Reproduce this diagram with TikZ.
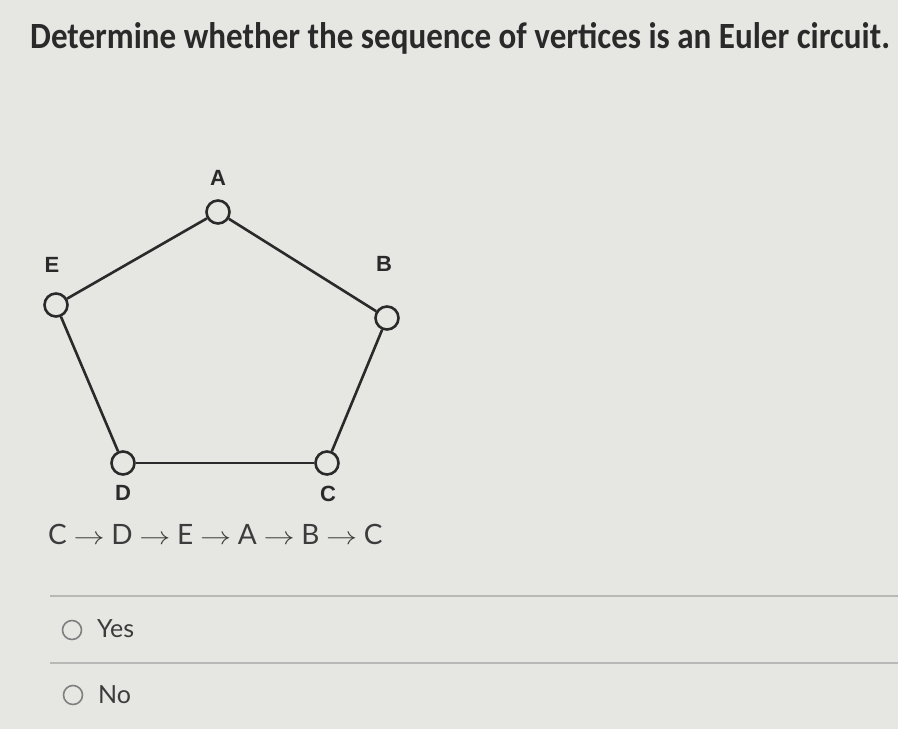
\documentclass[tikz,border=0pt]{standalone}
\usepackage{fontspec}
\setmainfont{Lato}
\newfontfamily\titlefont{Carlito}
\newfontfamily\labelfont{Liberation Sans}
\definecolor{bg}{HTML}{E6E6E3}
\definecolor{ink}{HTML}{2A2A2A}
\definecolor{txt}{HTML}{3C3C3C}
\definecolor{rule}{HTML}{B8B8B6}
\newcommand{\seqarr}{\hspace{6.7pt}\scalebox{1.25}[1]{$\rightarrow$}\hspace{6.7pt}}
\begin{document}
\begin{tikzpicture}[x=1pt,y=-1pt,
  vtx/.style={circle,draw=ink,line width=2.6pt,fill=bg,minimum size=23pt,inner sep=0pt},
  vlabel/.style={font=\labelfont\bfseries\fontsize{22}{26}\selectfont,text=ink,inner sep=0pt},
  edge/.style={draw=ink,line width=2.6pt},
  radio/.style={circle,draw=gray,line width=1.6pt,fill=bg,minimum size=19pt,inner sep=0pt},
  opt/.style={font=\fontsize{25}{28}\selectfont,text=txt,anchor=west,inner sep=0pt}]
\useasboundingbox (0,0) rectangle (898,729);
\fill[bg] (0,0) rectangle (898,729);
\node[text=ink,anchor=west,inner sep=0pt] (title) at (30,38) {\resizebox{860pt}{\height}{\titlefont\bfseries\fontsize{37}{40}\selectfont Determine whether the sequence of vertices is an Euler circuit.}};
% vertices
\node[vtx] (A) at (218,212) {};
\node[vtx] (B) at (387,318) {};
\node[vtx] (C) at (327,463) {};
\node[vtx] (D) at (123,463) {};
\node[vtx] (E) at (56,305) {};
\node[vlabel] (la) at (218,178) {A};
\node[vlabel] (lb) at (384,264) {B};
\node[vlabel] (lc) at (328,494) {C};
\node[vlabel] (ld) at (123,493) {D};
\node[vlabel] (le) at (52,265) {E};
\draw[edge] (A) -- (B);
\draw[edge] (B) -- (C);
\draw[edge] (C) -- (D);
\draw[edge] (D) -- (E);
\draw[edge] (E) -- (A);
% sequence
\node[font=\fontsize{28}{31}\selectfont,text=txt,anchor=west,inner sep=0pt] (seq) at (48,534) {C\seqarr D\seqarr E\seqarr A\seqarr B\seqarr C};
% rules
\coordinate (r1a) at (50,596);
\coordinate (r1b) at (898,596);
\coordinate (r2a) at (50,663);
\coordinate (r2b) at (898,663);
\draw[rule,line width=1.5pt] (r1a) -- (r1b);
\draw[rule,line width=1.5pt] (r2a) -- (r2b);
% options
\node[radio] (ry) at (72,630) {};
\node[opt] (yes) at (97,629) {Yes};
\node[radio] (rn) at (73,695) {};
\node[opt] (no) at (98,695) {No};
\end{tikzpicture}
\end{document}
